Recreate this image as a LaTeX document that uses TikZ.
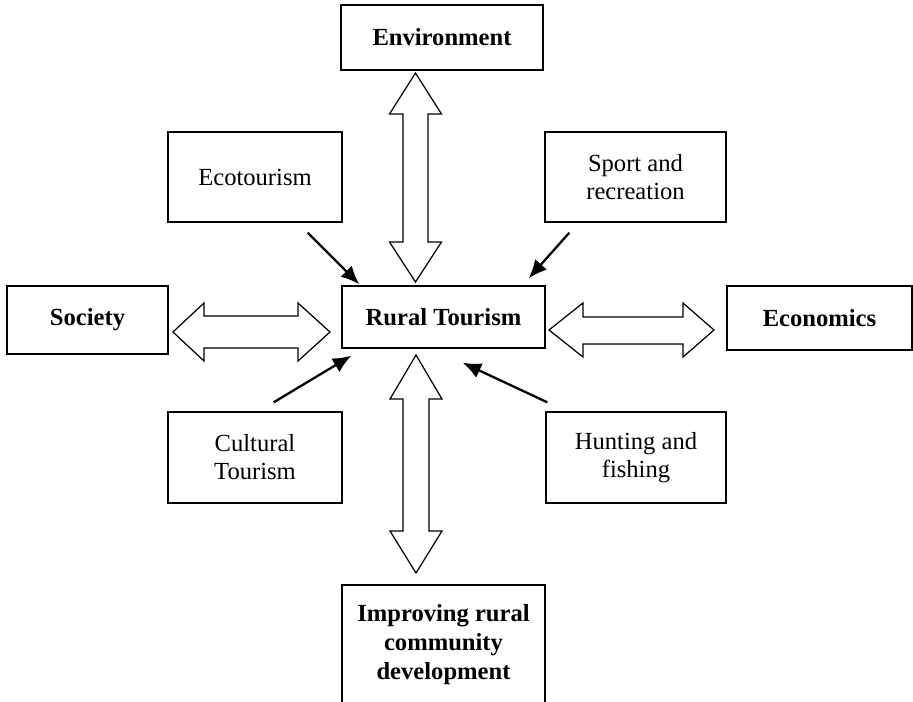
\documentclass[tikz,border=0pt]{standalone}
\usepackage{fontspec}
\setmainfont{Liberation Serif}
\usetikzlibrary{calc,arrows.meta}
\begin{document}
\begin{tikzpicture}[x=0.02cm,y=-0.02cm,
  box/.style={draw,line width=0.8pt,rectangle,align=center,inner sep=0pt,
    font=\fontsize{14}{16}\selectfont},
  bbox/.style={box,font=\fontsize{14}{16}\selectfont\bfseries},
  blockarrow/.style={draw,line width=0.7pt,fill=white,line join=miter},
  conn/.style={line width=1.3pt,-{Latex[length=10.5pt,width=9pt]}}]
\useasboundingbox (0,0) rectangle (913,701);
% boxes
\node[bbox,minimum width=4.04cm,minimum height=1.3cm] (env) at (442,37.5) {Environment};
\node[box,minimum width=3.48cm,minimum height=1.8cm] (eco) at (255,177) {Ecotourism};
\node[box,minimum width=3.62cm,minimum height=1.8cm] (sport) at (635.5,177) {Sport and\\recreation};
\node[bbox,minimum width=3.22cm,minimum height=1.36cm] (soc) at (87.5,320) {Society};
\node[bbox,minimum width=4.06cm,minimum height=1.24cm] (rural) at (443.5,317) {Rural Tourism};
\node[bbox,minimum width=3.7cm,minimum height=1.28cm] (econ) at (819.5,318) {Economics};
\node[box,minimum width=3.48cm,minimum height=1.82cm] (cult) at (255,457.5) {Cultural\\Tourism};
\node[box,minimum width=3.6cm,minimum height=1.82cm] (hunt) at (636,457.5) {Hunting and\\fishing};
\node[bbox,minimum width=4.06cm,minimum height=2.4cm,font=\fontsize{14}{16.5}\selectfont\bfseries] (impr) at (443.5,645) {Improving rural\\community\\development};
% block double arrows
\draw[blockarrow] (415.5,73) -- (441.5,114) -- (428,114) -- (428,242) -- (441.5,242)
  -- (415.5,282) -- (389.5,242) -- (403,242) -- (403,114) -- (389.5,114) -- cycle;
\draw[blockarrow] (416,355) -- (442,399) -- (429,399) -- (429,531) -- (442,531)
  -- (416,573) -- (390,531) -- (403,531) -- (403,399) -- (390,399) -- cycle;
\draw[blockarrow] (173,332) -- (204,303) -- (204,316) -- (298,316) -- (298,303)
  -- (330,332) -- (298,361) -- (298,348) -- (204,348) -- (204,361) -- cycle;
\draw[blockarrow] (549,330) -- (583,303) -- (583,317) -- (683,317) -- (683,303)
  -- (714,330) -- (683,357) -- (683,344) -- (583,344) -- (583,357) -- cycle;
% influence arrows
\draw[conn] ($(eco.south east)+(-35,10)$) -- ($(rural.north west)+(18,-1)$);
\draw[conn] ($(sport.south west)+(25,10)$) -- ($(rural.north east)+(-17,-7)$);
\draw[conn] ($(cult.north east)+(-69,-9)$) -- ($(rural.south west)+(10,7)$);
\draw[conn] ($(hunt.north west)+(2,-9)$) -- ($(rural.south east)+(-83,14)$);
\end{tikzpicture}
\end{document}
